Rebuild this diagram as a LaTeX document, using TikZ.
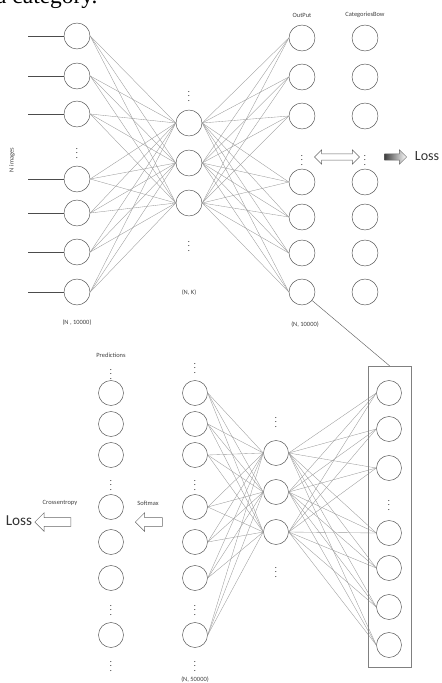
\documentclass[tikz,border=0pt]{standalone}
\usepackage{fontspec}
\setmainfont{Carlito}
\newfontfamily\pagefont{Liberation Serif}
\usepackage{tikz}
\usetikzlibrary{shapes.arrows}
\usetikzlibrary{fit}
\def\lbl{\fontsize{5.5}{6}\selectfont}

\begin{document}
\begin{tikzpicture}[x=0.03cm,y=-0.03cm,
	neuron/.style={circle,draw=black!70,line width=0.4pt,minimum size=0.78cm,inner sep=0pt},
	sneuron/.style={neuron,minimum size=0.75cm},
	wire/.style={gray!80,line width=0.3pt},
	vd/.style={font=\fontsize{7}{7}\selectfont,inner sep=0pt},
	tag/.style={font=\lbl,text=black!75,inner sep=1pt},
	blockarrow/.style={single arrow,draw=black!60,line width=0.4pt,inner sep=3.5pt,single arrow head extend=0.15cm}
	]
	\useasboundingbox (0,0) rectangle (441,683);
	% cut line of the page text above
	\node[anchor=base west,font=\pagefont\fontsize{20}{20}\selectfont,inner sep=0pt] (pagetext) at (-4,4) {a category.};

	% top network
	\foreach \n/\y in {1/36,2/76,3/114,4/179,5/213,6/252,7/292}{
		\node[neuron] (i\n) at (77,\y) {};
		\coordinate (in\n) at (28,\y);
		\draw[black!70] (in\n) -- (i\n.west);
	}
	\foreach \n/\y in {1/123,2/163,3/203}
		\node[neuron] (h\n) at (189,\y) {};
	\foreach \n/\y in {1/38,2/77,3/116,4/182,5/217,6/253,7/292}{
		\node[neuron] (o\n) at (302,\y) {};
		\node[neuron] (c\n) at (365,\y) {};
	}
	\foreach \a in {1,...,7}
		\foreach \b in {1,2,3}{
			\draw[wire] (i\a.east) -- (h\b.west);
			\draw[wire] (h\b.east) -- (o\a.west);
		}
	\node[vd] (idots) at (77,150) {$\vdots$};
	\node[vd] (hdotsa) at (189,93) {$\vdots$};
	\node[vd] (hdotsb) at (189,243) {$\vdots$};
	\node[vd] (odots) at (302,157) {$\vdots$};
	\node[vd] (cdots) at (365,157) {$\vdots$};
	\node[tag,rotate=90] (nimg) at (12,160) {N images};
	\node[tag] at (77,323) {(N , 10000)};
	\node[tag] at (189,293) {(N, K)};
	\node[tag] at (305,325) {(N, 10000)};
	\node[tag] at (302,15) {OutPut};
	\node[tag] at (365,15) {CategoriesBow};
	\node[double arrow,draw=black!60,line width=0.4pt,minimum height=1.35cm,inner sep=2.5pt,double arrow head extend=0.12cm] (cmp) at (337,157) {};
	\node[blockarrow,minimum height=0.66cm,inner sep=2.5pt,single arrow head extend=0.12cm,left color=black!75,right color=white] (toloss) at (394,157) {};
	\node[font=\fontsize{12}{12}\selectfont,text=black!80] (lossa) at (427,156) {Loss};

	% bottom network
	\foreach \n/\y in {1/393,2/424,3/455,4/507,5/542,6/578,7/635}{
		\node[sneuron] (l\n) at (195,\y) {};
		\node[sneuron] (p\n) at (111,\y) {};
	}
	\foreach \n/\y in {1/453,2/492,3/532}
		\node[sneuron] (g\n) at (276,\y) {};
	\foreach \n/\y in {1/393,2/429,3/468,4/533,5/568,6/607,7/645}
		\node[sneuron] (r\n) at (389,\y) {};
	\foreach \a in {1,...,7}
		\foreach \b in {1,2,3}{
			\draw[wire] (l\a.east) -- (g\b.west);
			\draw[wire] (g\b.east) -- (r\a.west);
		}
	\node[draw=black!50,line width=0.4pt,minimum width=1.29cm,minimum height=9.03cm,inner sep=0pt] (box) at (389.5,516.5) {};
	\draw[black!60,line width=0.4pt] (o7) -- (box.north);
	\foreach \y in {365,482,607,663}
		\node[vd] at (195,\y) {$\vdots$};
	\foreach \y in {371,482,607,663}
		\node[vd] at (111,\y) {$\vdots$};
	\node[vd] (gdotsa) at (276,419) {$\vdots$};
	\node[vd] (gdotsb) at (276,569) {$\vdots$};
	\node[vd] (rdots) at (389,502) {$\vdots$};
	\node[tag] at (111,355) {Predictions};
	\node[tag] at (148,503) {Softmax};
	\node[tag] at (60,503) {Crossentropy};
	\node[tag] at (195,680) {(N, 50000)};
	\node[blockarrow,minimum height=0.81cm,shape border rotate=180] (smax) at (151,522) {};
	\node[blockarrow,minimum height=1.08cm,shape border rotate=180] (xent) at (55,522) {};
	\node[font=\fontsize{13}{13}\selectfont,text=black!80] (lossb) at (19,521) {Loss};
\end{tikzpicture}
\end{document}
